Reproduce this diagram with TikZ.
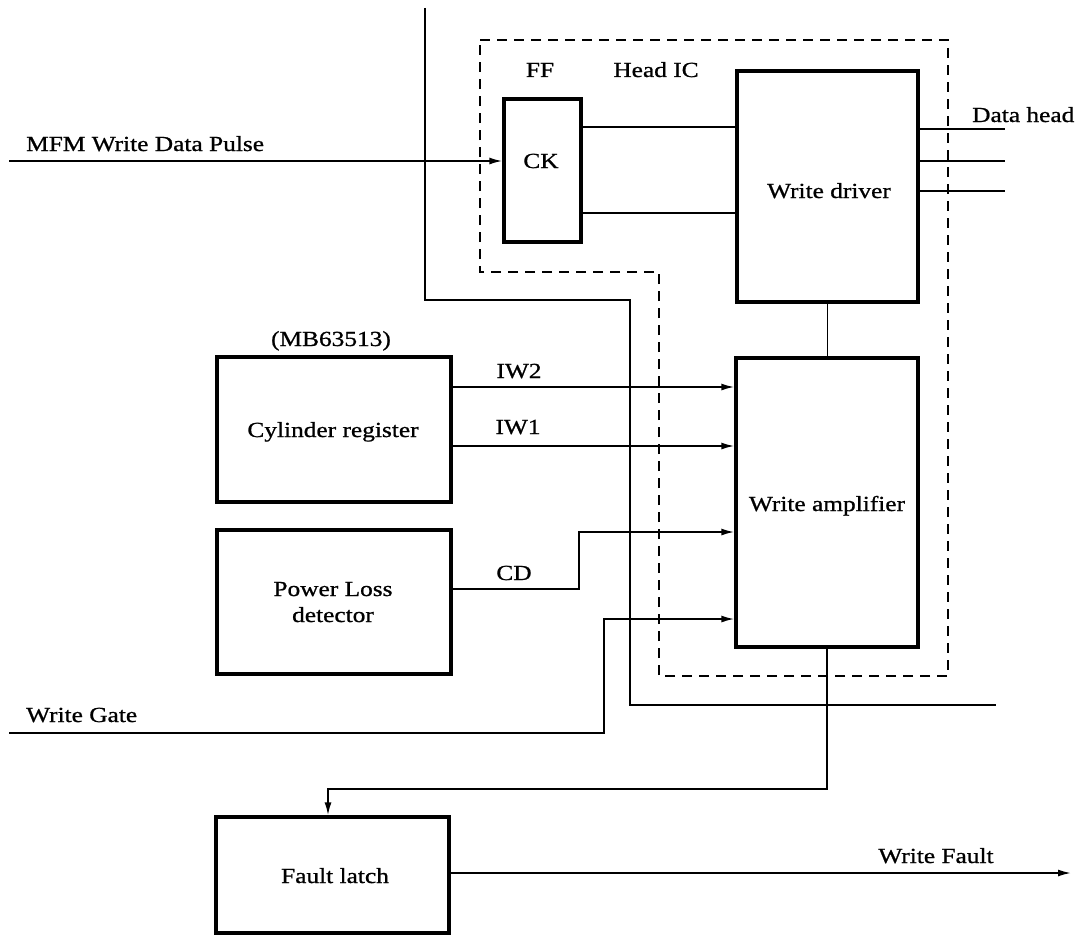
\documentclass[tikz,border=0pt]{standalone}
\usepackage{fontspec}
\setmainfont[FakeStretch=1.18,FakeBold=0.9]{Liberation Serif}
\usetikzlibrary{arrows.meta}
\begin{document}
\begin{tikzpicture}[x=1pt,y=-1pt,
  box/.style={draw, line width=3.4pt, rectangle, inner sep=0pt},
  sig/.style={line width=1.7pt},
  arr/.style={sig, -{Latex[length=13pt,width=7pt]}},
  bus/.style={line width=2.3pt},
  hic/.style={line width=2pt, dash pattern=on 10pt off 7pt},
  lbl/.style={font=\fontsize{21.5}{26}\selectfont, inner sep=0pt, anchor=base},
  lblw/.style={lbl, anchor=base west}]
\useasboundingbox (0,0) rectangle (1083,934);

% boxes
\node[box, minimum width=77pt,  minimum height=143pt] (ff) at (542.5,170.5) {};
\node[box, minimum width=181pt, minimum height=231pt] (wd) at (827.5,186.5) {};
\node[box, minimum width=182pt, minimum height=289pt] (wa) at (827,502.5) {};
\node[box, minimum width=234pt, minimum height=145pt] (cr) at (334,429.5) {};
\node[box, minimum width=234pt, minimum height=144pt] (pl) at (334,602) {};
\node[box, minimum width=233pt, minimum height=116pt] (fl) at (332.5,875) {};

% texts
\node[lbl] (cktxt) at (541,168) {CK};
\node[lbl] (fftxt) at (540,77) {FF};
\node[lbl] (hictxt) at (656,77) {Head IC};
\node[lbl] (wdtxt) at (829,198) {Write driver};
\node[lbl] (watxt) at (827,511) {Write amplifier};
\node[lbl] (mbtxt) at (331,346) {(MB63513)};
\node[lbl] (crtxt) at (333,437) {Cylinder register};
\node[lbl] (pltxt1) at (333,596) {Power Loss};
\node[lbl] (pltxt2) at (333,622) {detector};
\node[lbl] (fltxt) at (335,883) {Fault latch};
\node[lblw] (mfmtxt) at (26,151) {MFM Write Data Pulse};
\node[lblw] (dhtxt) at (972,122) {Data head};
\node[lbl] (iw2txt) at (519,378) {IW2};
\node[lbl] (iw1txt) at (518,434) {IW1};
\node[lbl] (cdtxt) at (514,580) {CD};
\node[lblw] (wgtxt) at (26,722) {Write Gate};
\node[lbl] (wftxt) at (936,863) {Write Fault};

% Head IC dashed outline
\draw[hic] (480,40) -- (948,40) -- (948,676) -- (659,676) -- (659,272) -- (480,272) -- cycle;

% bus line
\coordinate (bus0) at (425,8);
\coordinate (bus1) at (425,300);
\coordinate (bus2) at (630,300);
\coordinate (bus3) at (630,705);
\coordinate (bus4) at (996,705);
\draw[bus] (bus0) -- (bus1) -- (bus2) -- (bus3) -- (bus4);

% MFM write data pulse
\coordinate (mfm) at (9,161);
\draw[arr] (mfm) -- (ff.west |- mfm);

% FF to write driver
\draw[sig] (ff.east |- 0,127) -- (wd.west |- 0,127);
\draw[sig] (ff.east |- 0,213) -- (wd.west |- 0,213);

% data head outputs
\coordinate (dh1) at (1005,129);
\coordinate (dh2) at (1005,161);
\coordinate (dh3) at (1005,191);
\draw[sig] (wd.east |- dh1) -- (dh1);
\draw[sig] (wd.east |- dh2) -- (dh2);
\draw[sig] (wd.east |- dh3) -- (dh3);

% write driver to write amplifier
\draw[sig] (wd.south) -- (wd.south |- wa.north);

% IW2 / IW1
\draw[arr] (cr.east |- 0,387) -- (wa.west |- 0,387);
\draw[arr] (cr.east |- 0,446) -- (wa.west |- 0,446);

% CD
\coordinate (cdA) at (579,589);
\coordinate (cdB) at (579,532);
\draw[arr] (pl.east |- cdA) -- (cdA) -- (cdB) -- (wa.west |- cdB);

% Write gate
\coordinate (wg0) at (9,733);
\coordinate (wg1) at (604,733);
\coordinate (wg2) at (604,619);
\draw[arr] (wg0) -- (wg1) -- (wg2) -- (wa.west |- wg2);

% write amplifier to fault latch
\coordinate (fa) at (wa.south |- 0,789);
\coordinate (fb) at (328,789);
\draw[arr] (wa.south) -- (fa) -- (fb) -- (fb |- fl.north);

% write fault output
\coordinate (wf) at (1071,873);
\draw[arr] (fl.east |- wf) -- (wf);
\end{tikzpicture}
\end{document}
